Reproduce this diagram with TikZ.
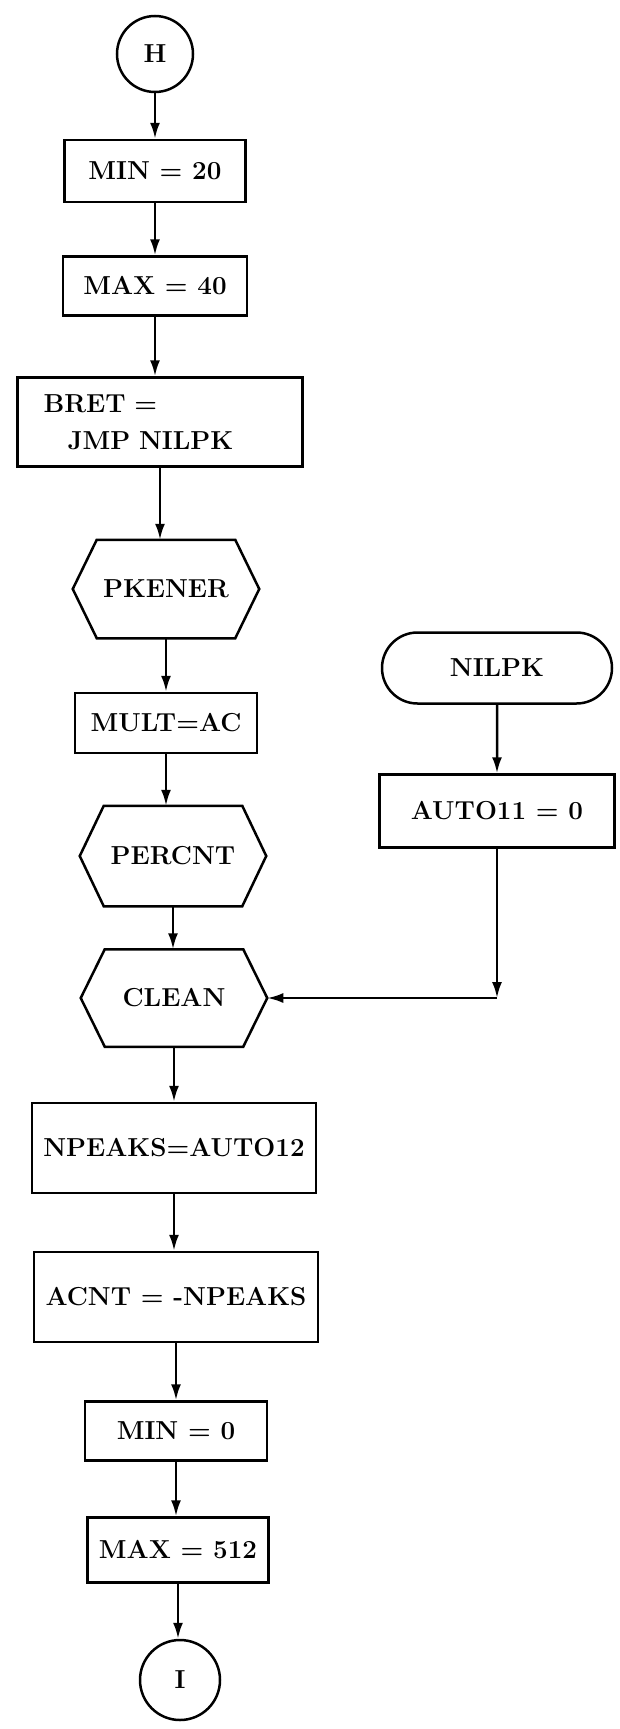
\documentclass[tikz,border=0pt]{standalone}
\usepackage{fontspec}
\usetikzlibrary{arrows.meta,shapes.misc}
\begin{document}
\begin{tikzpicture}[x=1pt, y=-1pt, line width=2.5pt,
    arr/.style={-{Latex[length=16pt,width=10pt]}},
    conn/.style={circle, draw, minimum size=76pt, inner sep=0pt},
    box/.style={rectangle, draw, inner sep=2pt},
    hexnode/.style={rectangle, inner sep=2pt, minimum width=184pt, minimum height=96pt},
    term/.style={rounded rectangle, draw, inner sep=2pt}]
  \tikzstyle{every node}=[font=\fontsize{26}{37}\selectfont\bfseries]
  \useasboundingbox (0,0) rectangle (620,1729);

  \node[conn] (H) at (155,54) {H};
  \node[box, minimum width=181pt, minimum height=62pt] (min20) [below of=H, node distance=117pt] {MIN = 20};
  \node[box, minimum width=184pt, minimum height=59pt] (max40) [below of=min20, node distance=115pt] {MAX = 40};
  \node[box, minimum height=89pt, text width=233pt, inner xsep=26pt, align=left] (bret) [below of=max40, node distance=136pt, xshift=5pt] {BRET =\\\hspace*{24pt}JMP NILPK};
  \node[hexnode] (pkener) [below of=bret, node distance=167pt, xshift=6pt] {PKENER};
  \node[box, minimum width=182pt, minimum height=60pt] (mult) [below of=pkener, node distance=134pt] {MULT=AC};
  \node[hexnode, minimum height=98pt] (percnt) [below of=mult, node distance=133pt, xshift=7pt] {PERCNT};
  \node[hexnode, minimum height=95pt] (clean) [below of=percnt, node distance=142pt, xshift=1pt] {CLEAN};
  \node[box, minimum width=284pt, minimum height=90pt] (npeaks) [below of=clean, node distance=150pt] {NPEAKS=AUTO12};
  \node[box, minimum width=284pt, minimum height=90pt] (acnt) [below of=npeaks, node distance=149pt, xshift=2pt] {ACNT = -NPEAKS};
  \node[box, minimum width=182pt, minimum height=59pt] (min0) [below of=acnt, node distance=134pt] {MIN = 0};
  \node[box, minimum width=181pt, minimum height=65pt] (max512) [below of=min0, node distance=119pt, xshift=2pt] {MAX = 512};
  \node[conn, minimum size=80pt] (I) [below of=max512, node distance=130pt, xshift=2pt] {I};

  % entry point on the right
  \node[term, minimum width=234pt, minimum height=71pt] (nilpk) at (497,668) {NILPK};
  \node[box, minimum width=235pt, minimum height=73pt] (auto11) [below of=nilpk, node distance=143pt] {AUTO11 = 0};
  \coordinate (bend) at (auto11.south |- clean.east);

  % hexagon outlines
  \foreach \h in {pkener,percnt,clean}
    \draw (\h.west) -- ([xshift=24pt]\h.north west) -- ([xshift=-24pt]\h.north east)
      -- (\h.east) -- ([xshift=-24pt]\h.south east) -- ([xshift=24pt]\h.south west) -- cycle;

  \path[arr]
    (H) edge (H |- min20.north)
    (min20) edge (min20 |- max40.north)
    (max40) edge (max40 |- bret.north)
    (bret) edge (bret |- pkener.north)
    (pkener) edge (pkener |- mult.north)
    (mult) edge (mult |- percnt.north)
    (percnt) edge (percnt |- clean.north)
    (clean) edge (clean |- npeaks.north)
    (npeaks) edge (npeaks |- acnt.north)
    (acnt) edge (acnt |- min0.north)
    (min0) edge (min0 |- max512.north)
    (max512) edge (max512 |- I.north)
    (nilpk) edge (auto11)
    (auto11) edge (bend)
    (bend) edge (clean.east);
\end{tikzpicture}
\end{document}
